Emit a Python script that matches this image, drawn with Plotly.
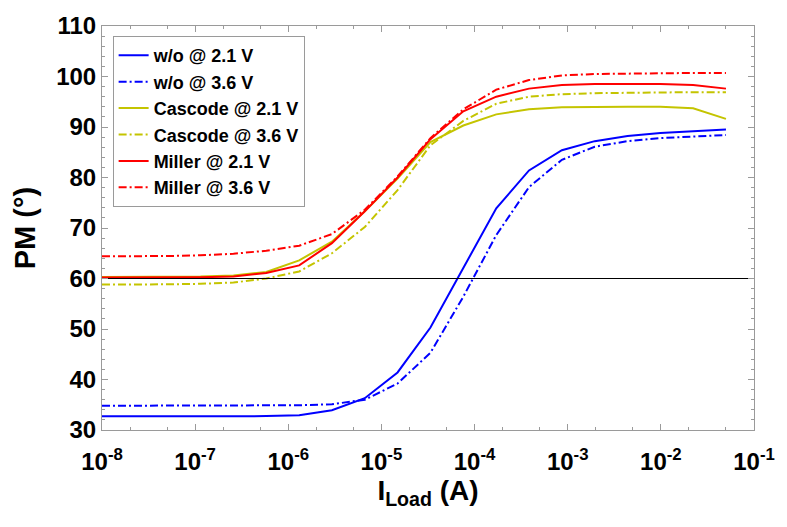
import plotly.graph_objects as go

# Load current (A)
I_load = [1.0e-8, 2.25e-8, 5.07e-8, 1.14e-7, 2.58e-7, 5.80e-7, 1.31e-6, 2.94e-6,
          6.63e-6, 1.49e-5, 3.36e-5, 7.57e-5, 1.71e-4, 3.84e-4, 8.66e-4, 1.95e-3,
          4.39e-3, 9.89e-3, 2.22e-2, 5.0e-2]

wo_21 = [32.7, 32.7, 32.7, 32.7, 32.7, 32.75, 32.9, 33.9, 36.3, 41.4, 50.3, 62.0,
         73.9, 81.4, 85.4, 87.2, 88.2, 88.8, 89.2, 89.5]
wo_36 = [34.8, 34.8, 34.8, 34.8, 34.8, 34.85, 34.9, 35.1, 36.0, 39.2, 45.3, 56.4,
         68.6, 78.1, 83.5, 86.1, 87.2, 87.8, 88.1, 88.4]
cas_21 = [60.3, 60.3, 60.35, 60.4, 60.6, 61.3, 63.6, 67.3, 73.3, 79.8, 87.0, 90.3,
          92.5, 93.5, 93.9, 94.0, 94.0, 94.0, 93.7, 91.6]
cas_36 = [58.8, 58.8, 58.85, 58.95, 59.2, 60.0, 61.4, 65.0, 70.2, 77.5, 86.4, 91.2,
          94.6, 96.0, 96.5, 96.7, 96.8, 96.9, 96.9, 96.9]
mil_21 = [60.2, 60.2, 60.2, 60.25, 60.4, 61.1, 62.6, 67.0, 73.3, 80.0, 87.6, 93.1,
          96.0, 97.6, 98.3, 98.5, 98.5, 98.5, 98.3, 97.6]
mil_36 = [64.4, 64.4, 64.45, 64.6, 64.9, 65.5, 66.5, 68.8, 73.6, 80.2, 87.8, 93.5,
          97.4, 99.3, 100.2, 100.5, 100.6, 100.7, 100.7, 100.7]

series_names = ["w/o @ 2.1 V", "w/o @ 3.6 V", "Cascode @ 2.1 V", "Cascode @ 3.6 V",
                "Miller @ 2.1 V", "Miller @ 3.6 V"]
series_vals = [wo_21, wo_36, cas_21, cas_36, mil_21, mil_36]
series_colors = ["#0000ff", "#0000ff", "#c4c400", "#c4c400", "#ff0000", "#ff0000"]
series_dash = ["solid", "8px,3px,2px,3px"] * 3

ref_x = [1e-8, 1e-1]
ref_y = [60, 60]

x_tickvals = [1e-8, 1e-7, 1e-6, 1e-5, 1e-4, 1e-3, 1e-2, 1e-1]
x_ticktext = ["10<sup>-8</sup>", "10<sup>-7</sup>", "10<sup>-6</sup>", "10<sup>-5</sup>",
              "10<sup>-4</sup>", "10<sup>-3</sup>", "10<sup>-2</sup>", "10<sup>-1</sup>"]
y_tickvals = [30, 40, 50, 60, 70, 80, 90, 100, 110]

fig = go.Figure()
for name, vals, col, dsh in zip(series_names, series_vals, series_colors, series_dash):
    fig.add_trace(go.Scatter(x=I_load, y=vals, mode="lines", name=name,
                             line=dict(color=col, width=2, dash=dsh)))
fig.add_trace(go.Scatter(x=ref_x, y=ref_y, mode="lines", showlegend=False,
                         line=dict(color="black", width=1)))

axis_col = "#9a9a9a"
font_fam = "Arial, Liberation Sans, sans-serif"

fig.update_layout(
    width=787, height=527,
    margin=dict(l=102, r=27, t=20, b=97),
    paper_bgcolor="white", plot_bgcolor="white",
    font=dict(family=font_fam, color="black"),
    showlegend=True,
    legend=dict(x=0.0163, y=0.975, xanchor="left", yanchor="top",
                bgcolor="white", bordercolor=axis_col, borderwidth=1,
                font=dict(size=18, weight="bold", family=font_fam),
                tracegroupgap=0, itemwidth=30),
    xaxis=dict(type="log", range=[-8, -1], tickvals=x_tickvals, ticktext=x_ticktext,
               showgrid=False, zeroline=False, showline=True, linecolor=axis_col,
               linewidth=1, mirror="ticks", ticks="inside", ticklen=6,
               tickcolor=axis_col, ticklabelstandoff=10,
               minor=dict(ticks="inside", ticklen=3, tickcolor=axis_col, showgrid=False),
               tickfont=dict(size=24, weight="bold", family=font_fam),
               title=dict(text="I<sub>Load</sub> (A)", standoff=6,
                          font=dict(size=28, weight="bold", family=font_fam))),
    yaxis=dict(range=[30, 110], tickvals=y_tickvals,
               showgrid=False, zeroline=False, showline=True, linecolor=axis_col,
               linewidth=1, mirror="ticks", ticks="inside", ticklen=6,
               tickcolor=axis_col,
               minor=dict(ticks="inside", ticklen=3, dtick=2, tickcolor=axis_col,
                          showgrid=False),
               tickfont=dict(size=24, weight="bold", family=font_fam),
               title=dict(text="PM (°)", standoff=12,
                          font=dict(size=29, weight="bold", family=font_fam))),
)

fig.write_html("out.html")
